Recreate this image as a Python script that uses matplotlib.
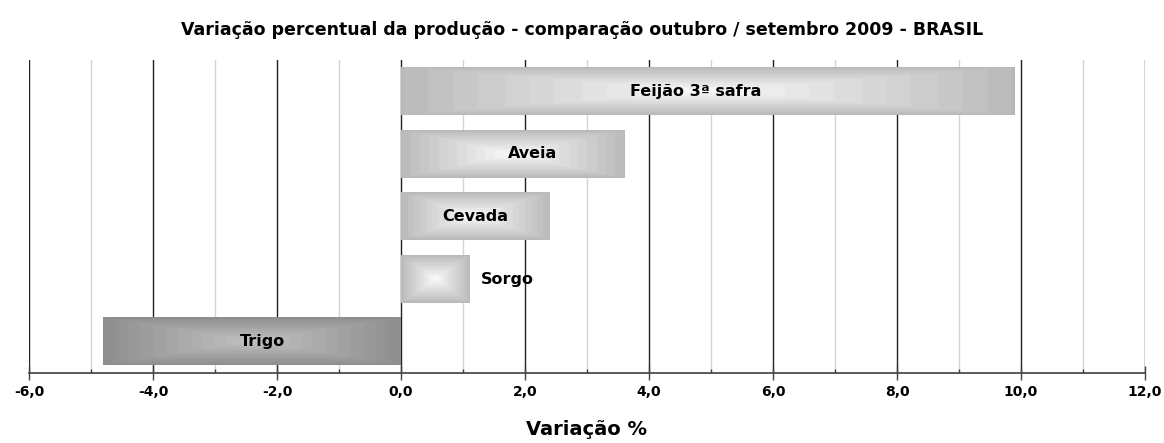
import numpy as np
import matplotlib
matplotlib.use('Agg')
import matplotlib.pyplot as plt
from matplotlib.ticker import MultipleLocator, FuncFormatter

plt.rcParams['font.family'] = ['DejaVu Sans']

# data (top to bottom)
culturas = ['Feijão 3ª safra', 'Aveia', 'Cevada', 'Sorgo', 'Trigo']
variacao = [9.9, 3.6, 2.4, 1.1, -4.8]
# where each label sits
label_x = [4.75, 2.12, 1.2, 1.71, -2.24]

titulo = 'Variação percentual da produção - comparação outubro / setembro 2009 - BRASIL'

fig = plt.figure(figsize=(11.64, 4.43), dpi=100)
ax = fig.add_axes([29 / 1164, 1 - 373 / 443, 1116 / 1164, 313 / 443])

y = np.arange(len(culturas))[::-1]
bars = ax.barh(y, variacao, height=0.76, color='none', edgecolor='none', zorder=3)


def gradiente(center, edge, n=200):
    gx = np.abs(np.linspace(-1, 1, n))
    gy = np.abs(np.linspace(-1, 1, 60))
    t = np.maximum(gx[None, :], gy[:, None])
    t = np.floor(t * 12) / 12  # banded look
    c = np.array(center)[None, None, :]
    e = np.array(edge)[None, None, :]
    return c + (e - c) * t[:, :, None]


for b, v in zip(bars, variacao):
    x0, y0 = b.get_x(), b.get_y()
    w, h = b.get_width(), b.get_height()
    if v >= 0:
        img = gradiente((0.97, 0.97, 0.97), (0.72, 0.72, 0.72))
    else:
        img = gradiente((0.75, 0.75, 0.75), (0.55, 0.55, 0.55))
    ax.imshow(img, extent=[x0, x0 + w, y0, y0 + h], aspect='auto',
              interpolation='bilinear', zorder=3)

ax.set_xlim(-6, 12)
ax.set_ylim(-0.5, len(culturas) - 0.5)

for lx, yy, nome in zip(label_x, y, culturas):
    ax.text(lx, yy, nome, ha='center', va='center', fontsize=11.5,
            fontweight='bold', zorder=4)

# grid
ax.xaxis.set_major_locator(MultipleLocator(2))
ax.xaxis.set_minor_locator(MultipleLocator(1))
ax.grid(which='major', axis='x', color='#222222', linewidth=1.0, zorder=1)
ax.grid(which='minor', axis='x', color='#d4d4d4', linewidth=1.0, zorder=1)
ax.set_axisbelow(True)

ax.set_yticks([])
for s in ['top', 'right', 'left']:
    ax.spines[s].set_visible(False)
ax.spines['bottom'].set_color('#404040')
ax.spines['bottom'].set_linewidth(1.2)

ax.tick_params(axis='x', which='major', direction='inout', length=10,
               width=1, color='#404040', pad=4)
ax.tick_params(axis='x', which='minor', direction='in', length=3,
               width=1, color='#404040')
ax.xaxis.set_major_formatter(FuncFormatter(lambda v, p: f'{v:.1f}'.replace('.', ',')))
for lbl in ax.get_xticklabels():
    lbl.set_fontweight('bold')
    lbl.set_fontsize(10)

ax.set_xlabel('Variação %', fontsize=14, fontweight='bold', labelpad=15)
fig.text(0.5, 1 - 30 / 443, titulo, ha='center', va='center',
         fontsize=12.5, fontweight='bold')

fig.savefig('out.png', dpi=100, facecolor='white')
